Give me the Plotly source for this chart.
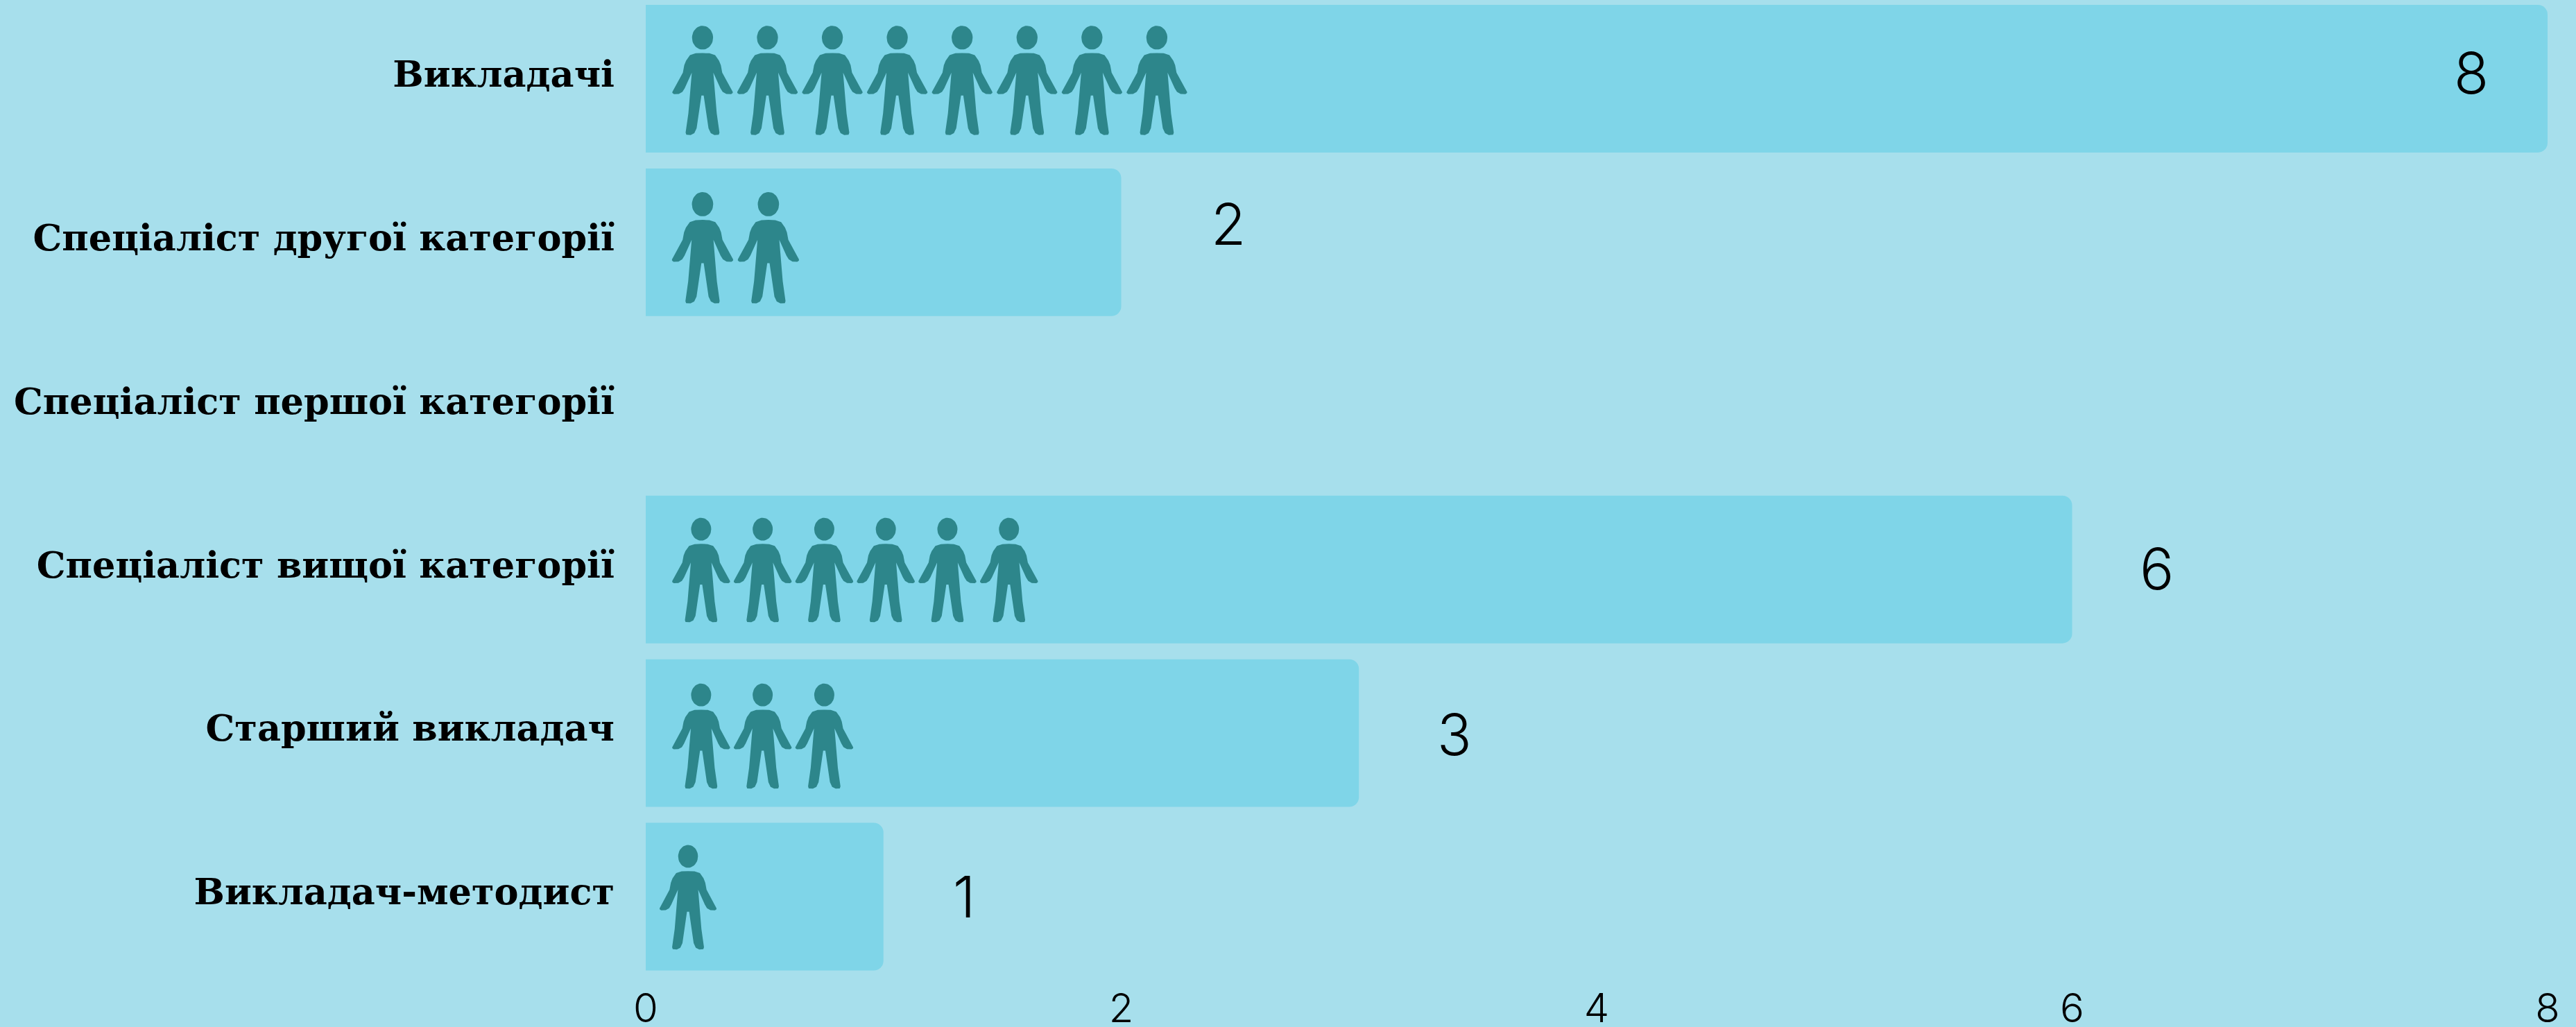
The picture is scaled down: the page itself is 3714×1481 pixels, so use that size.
import math
import plotly.graph_objects as go

categories = ["Викладачі", "Спеціаліст другої категорії", "Спеціаліст першої категорії",
              "Спеціаліст вищої категорії", "Старший викладач", "Викладач-методист"]
values = [8, 2, 0, 6, 3, 1]
x_ticks = [0, 2, 4, 6, 8]

# pictogram layout per row (axis units): first centre, spacing, vertical centre shift, height, width
icon_start = [0.239, 0.239, 0, 0.233, 0.233, 0.178]
icon_step = [0.273, 0.277, 0, 0.259, 0.259, 0]
icon_dy = [0.011, 0.034, 0, 0.004, 0.019, 0.004]
icon_h = [0.669, 0.682, 0, 0.640, 0.644, 0.640]
icon_w = [0.254, 0.257, 0, 0.243, 0.243, 0.239]

# value-label offsets from the bar end, pixels
label_dx = [-110, 154, 0, 122, 138, 116]
label_dy = [-8, -26, 0, -1, 2, 0]

BG = "#A7DFEC"
BAR = "#7FD5E8"
ICON = "#2D868B"
W, H = 3714, 1481
L, R, B = 931, 41, 69.5
LABEL_LIFT = 0.03  # category labels sit slightly above the bar centres (axis units)

# person outline, unit box: x in [-0.5, 0.5], y in [0, 1] from the top
half = [(0, 137), (-30, 138), (-55, 146), (-72, 170), (-80, 190), (-86, 222), (-132, 306), (-132, 311),
        (-125, 316), (-104, 315), (-88, 306), (-78, 290), (-47, 222), (-55, 310), (-62, 400), (-74, 484),
        (-71, 493), (-52, 494), (-36, 486), (-26, 465), (-5, 322)]
body = [(x / 264, (y - 18) / 477) for x, y in half]
body = body + [(-x, y) for x, y in reversed(body)]
head = [(46 * math.cos(t * math.pi / 20) / 264, (70 + 52 * math.sin(t * math.pi / 20) - 18) / 477)
        for t in range(41)]


def person(cx, cy, w, h):
    xs, ys = [], []
    for part in (head, body):
        xs += [cx + u * w for u, _ in part] + [None]
        ys += [cy - h / 2 + v * h for _, v in part] + [None]
    return xs, ys


fig = go.Figure()
fig.add_bar(y=list(range(len(categories))), x=values, orientation="h", marker=dict(color=BAR, line_width=0),
            hoverinfo="skip", showlegend=False)

for i, v in enumerate(values):
    xs, ys = [], []
    for k in range(v):
        a, b = person(icon_start[i] + k * icon_step[i], i + icon_dy[i], icon_w[i], icon_h[i])
        xs += a
        ys += b
    if xs:
        fig.add_scatter(x=xs, y=ys, mode="lines", fill="toself", fillcolor=ICON, line=dict(width=0, color=ICON),
                        hoverinfo="skip", showlegend=False)
    if v:
        fig.add_annotation(x=v, y=i, xref="x", yref="y", text=str(v), showarrow=False, xshift=label_dx[i],
                           yshift=-label_dy[i], font=dict(family="Inter", size=82, color="#000", weight=300))

fig.update_layout(
    width=W, height=H, autosize=False, margin=dict(l=L, r=R, t=0, b=B, pad=0),
    paper_bgcolor=BG, plot_bgcolor=BG, bargap=0.0975, barcornerradius=14,
    xaxis=dict(range=[0, 8], tickvals=x_ticks, showgrid=False, zeroline=False, showline=False, ticks="",
               automargin=False, ticklabelstandoff=4,
               tickfont=dict(family="Inter", size=58, color="#000", weight=300)),
    yaxis=dict(range=[5.5, -0.481], tickvals=[i - LABEL_LIFT for i in range(len(categories))], ticktext=categories,
               showgrid=False, zeroline=False, showline=False, ticks="", automargin=False, ticklabelstandoff=44,
               tickfont=dict(family="DejaVu Serif", size=52.5, color="#000", weight=700)),
)
fig.write_html("out.html", config=dict(displayModeBar=False), post_script="document.body.style.margin='0';")
